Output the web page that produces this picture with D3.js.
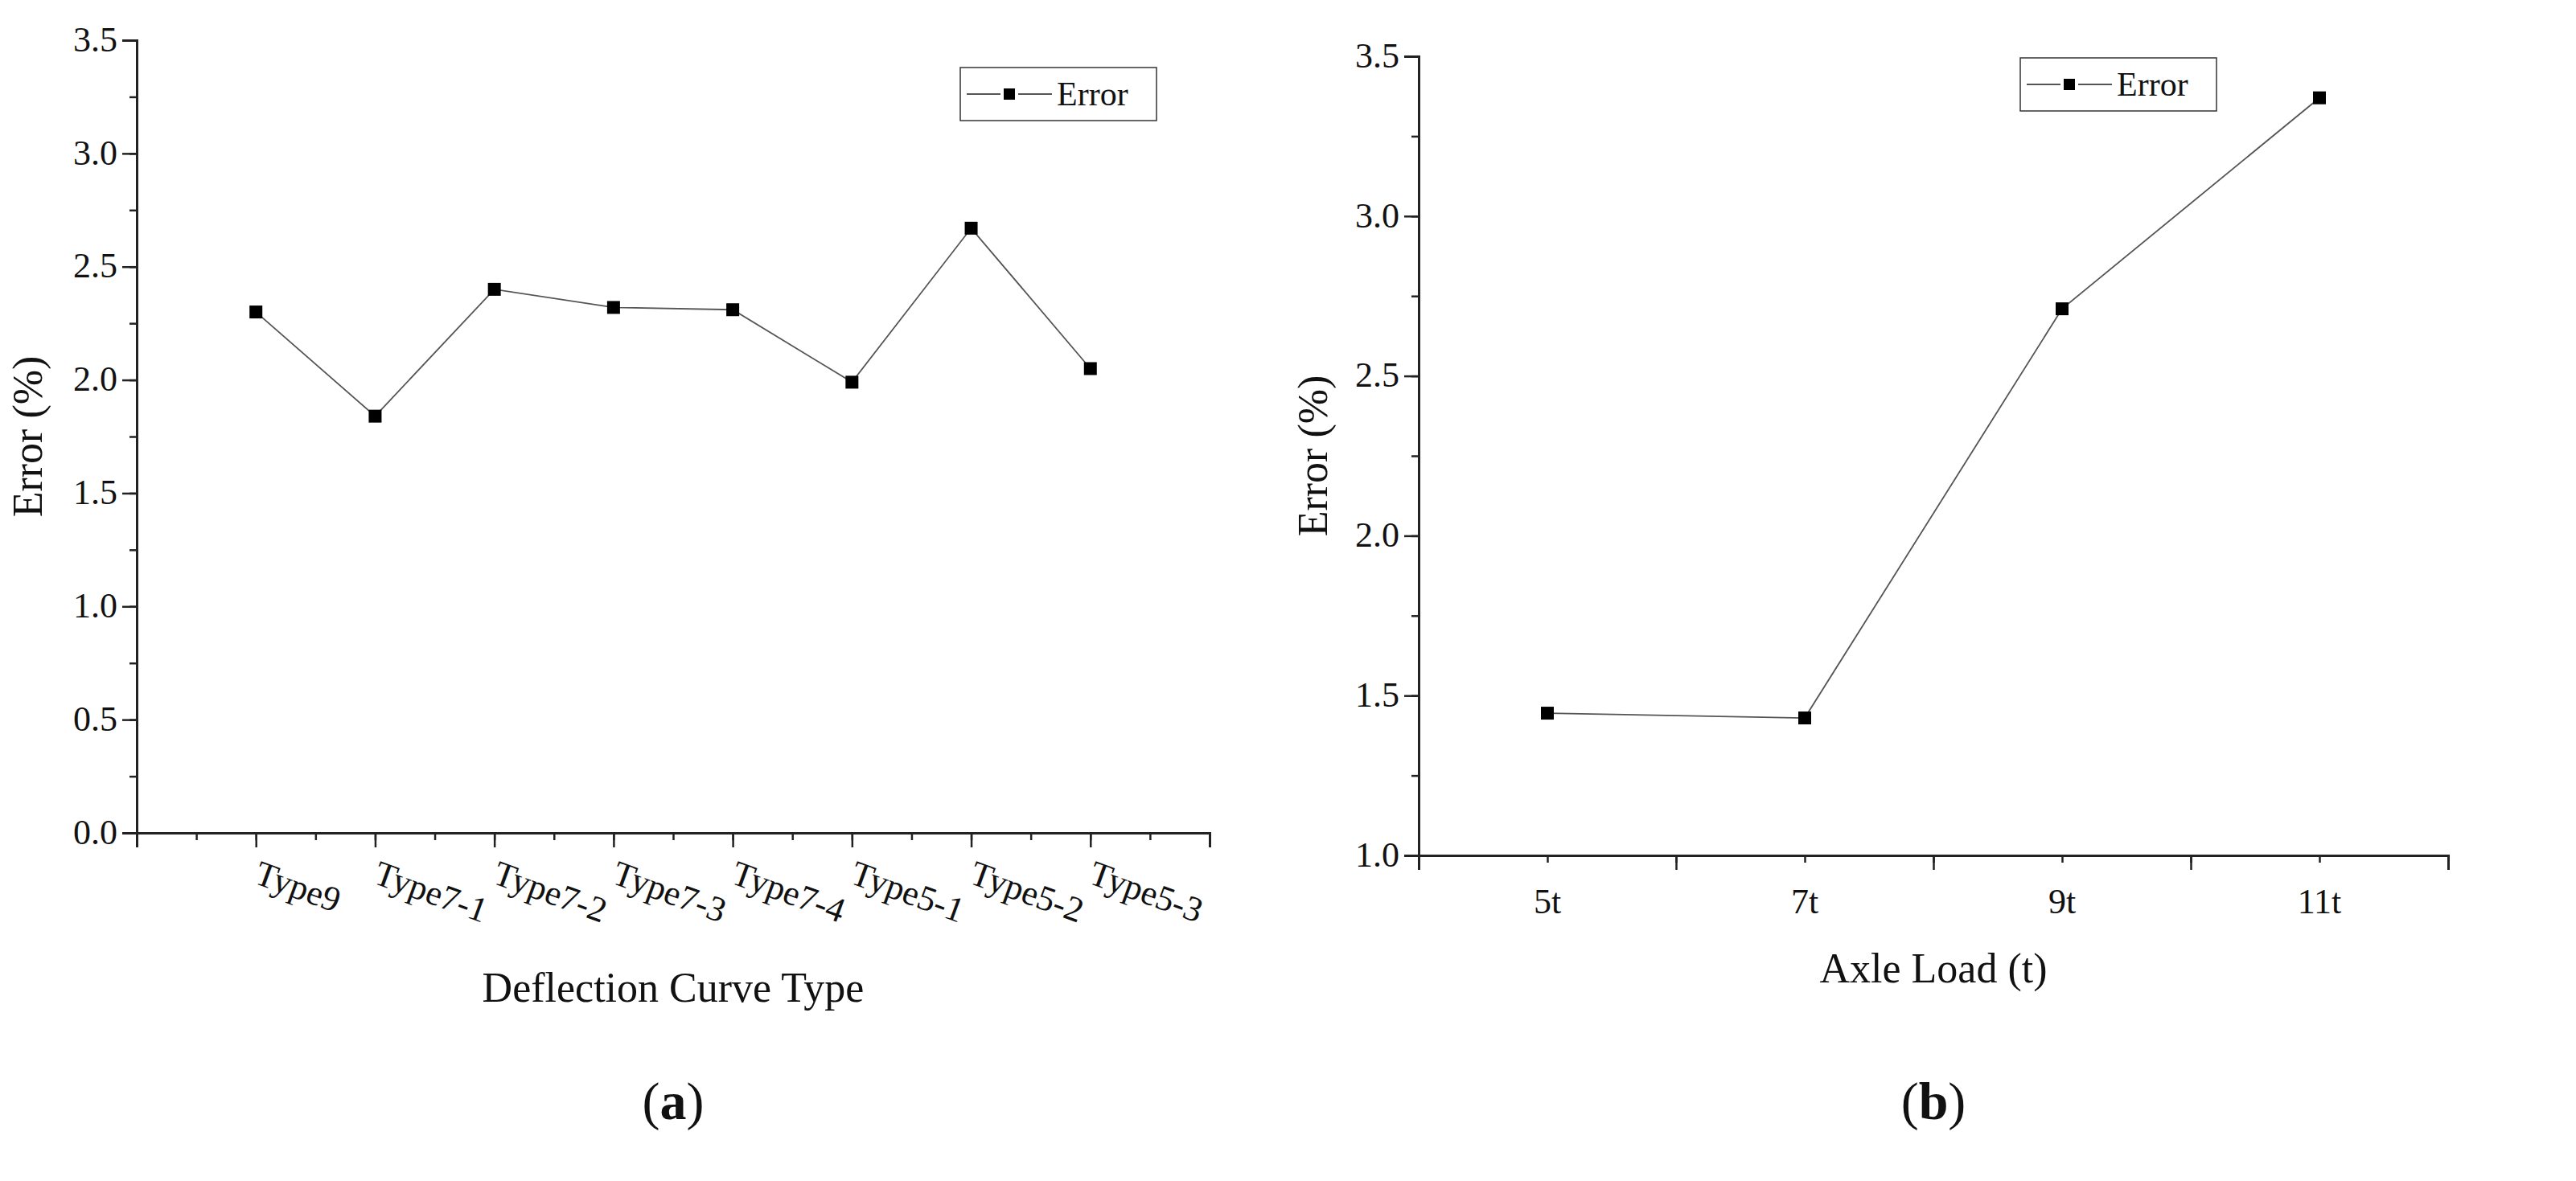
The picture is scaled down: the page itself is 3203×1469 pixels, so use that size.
<!DOCTYPE html>
<html><head><meta charset="utf-8">
<script src="https://cdn.jsdelivr.net/npm/d3@7"></script>
<style>body{margin:0;background:#fff}svg{display:block}text{font-family:"Liberation Serif","DejaVu Serif",serif;fill:#111}</style>
</head><body>
<svg id="c" width="3203" height="1469"></svg>
<script>
const typeCats = ["Type9","Type7-1","Type7-2","Type7-3","Type7-4","Type5-1","Type5-2","Type5-3"];
const typeErr = [2.30,1.84,2.40,2.32,2.31,1.99,2.67,2.05];
const loadCats = ["5t","7t","9t","11t"];
const loadPos = [5,7,9,11];
const loadErr = [1.445,1.43,2.71,3.37];
const typePos = [1,2,3,4,5,6,7,8];
const yTicksA = [0,0.5,1.0,1.5,2.0,2.5,3.0,3.5];
const yTicksB = [1.0,1.5,2.0,2.5,3.0,3.5];

const svg = d3.select("#c");

function panel(o){
  const g = svg.append("g");
  const x = d3.scaleLinear().domain([o.x0, o.x1]).range([o.left, o.right]);
  const y = d3.scaleLinear().domain(o.ydom).range([o.bottom, o.top]);
  const minorX = d3.range(o.x0, o.x1 + 0.001, o.step/2);
  const minorY = d3.range(o.ydom[0], o.ydom[1] + 0.001, 0.25);
  g.append("g").attr("transform",`translate(0,${o.bottom})`)
    .call(d3.axisBottom(x).tickValues(minorX).tickSize(9).tickFormat(""));
  g.append("g").attr("transform",`translate(0,${o.bottom})`)
    .call(d3.axisBottom(x).tickValues(d3.range(o.x0, o.x1+0.001, o.step)).tickSize(18).tickFormat(""));
  g.append("g").attr("transform",`translate(${o.left},0)`)
    .call(d3.axisLeft(y).tickValues(minorY).tickSize(9).tickFormat(""));
  const ay = g.append("g").attr("transform",`translate(${o.left},0)`)
    .call(d3.axisLeft(y).tickValues(o.yticks).tickSize(18).tickFormat(d3.format(".1f")).tickPadding(6));
  ay.selectAll("text").style("font-size","44px").attr("dy","0.3em");
  g.selectAll(".domain").attr("stroke","#222").attr("stroke-width",3);
  g.selectAll(".tick line").attr("stroke","#222").attr("stroke-width",2.5);
  const lab = g.append("g");
  o.cats.forEach((c,i)=>{
    const px = x(o.pos[i]);
    if(o.rotate){
      lab.append("text").attr("transform",`translate(${px-4},${o.bottom+62}) rotate(20)`)
        .attr("text-anchor","start").style("font-size","44px").text(c);
    } else {
      lab.append("text").attr("x",px).attr("y",o.bottom+72).attr("text-anchor","middle")
        .style("font-size","44px").text(c);
    }
  });
  const pts = o.vals.map((v,i)=>[x(o.pos[i]), y(v)]);
  g.append("path").attr("d", d3.line()(pts)).attr("fill","none").attr("stroke","#555").attr("stroke-width",1.8);
  g.selectAll("rect.m").data(pts).join("rect").attr("class","m")
    .attr("x",d=>d[0]-8).attr("y",d=>d[1]-8).attr("width",16).attr("height",16).attr("fill","#000");
  const L = o.legend;
  g.append("rect").attr("x",L[0]).attr("y",L[1]).attr("width",L[2]).attr("height",L[3])
    .attr("fill","#fff").attr("stroke","#333").attr("stroke-width",1.5);
  const ly = L[1]+L[3]/2;
  [[L[0]+8,L[0]+50],[L[0]+72,L[0]+114]].forEach(s=>
    g.append("line").attr("x1",s[0]).attr("x2",s[1]).attr("y1",ly).attr("y2",ly).attr("stroke","#555").attr("stroke-width",1.8));
  g.append("rect").attr("x",L[0]+61-7).attr("y",ly-7).attr("width",14).attr("height",14).attr("fill","#000");
  g.append("text").attr("x",L[0]+120).attr("y",ly+14).style("font-size","42px").text("Error");
  g.append("text").attr("x",(o.left+o.right)/2).attr("y",o.xtY).attr("text-anchor","middle").style("font-size","52px").text(o.xtitle);
  g.append("text").attr("transform",`translate(${o.ytX},${(o.top+o.bottom)/2}) rotate(-90)`).attr("text-anchor","middle").style("font-size","52px").text("Error (%)");
  g.append("text").attr("x",(o.left+o.right)/2).attr("y",1392).attr("text-anchor","middle").style("font-size","66px").html('(<tspan font-weight="bold">'+o.tag+'</tspan>)');
}

panel({cats:typeCats, pos:typePos, vals:typeErr, x0:0, x1:9, step:1, left:170, right:1504, top:50, bottom:1036,
  ydom:[0,3.5], yticks:yTicksA, rotate:true, legend:[1194,84,244,66],
  xtitle:"Deflection Curve Type", xtY:1246, ytX:52, tag:"a"});
panel({cats:loadCats, pos:loadPos, vals:loadErr, x0:4, x1:12, step:2, left:1764, right:3044, top:70, bottom:1064,
  ydom:[1,3.5], yticks:yTicksB, rotate:false, legend:[2512,72,244,66],
  xtitle:"Axle Load (t)", xtY:1222, ytX:1650, tag:"b"});
</script>
</body></html>
